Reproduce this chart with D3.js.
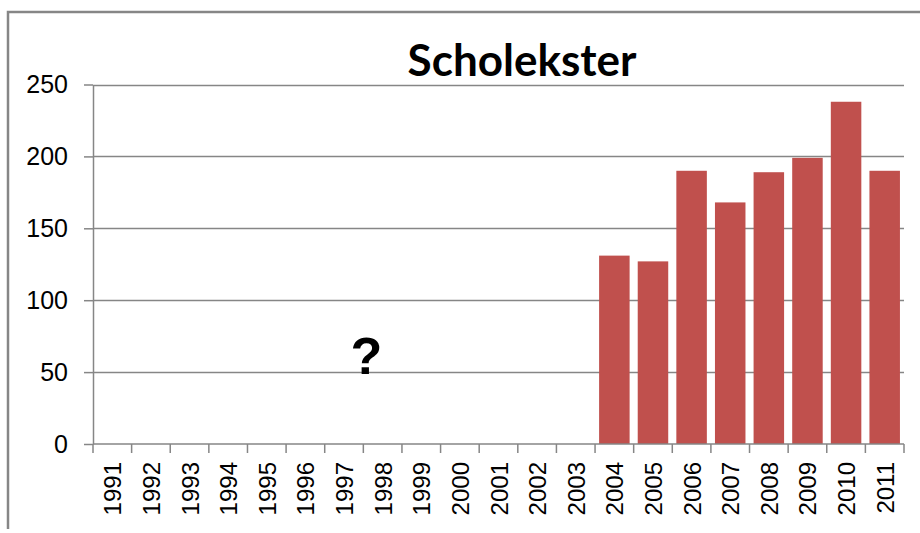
<!DOCTYPE html>
<html>
<head>
<meta charset="utf-8">
<script src="https://cdn.jsdelivr.net/npm/d3@7"></script>
<style>
  html, body { margin: 0; padding: 0; background: #fff; }
  svg { display: block; }
</style>
</head>
<body>
<svg id="chart" width="920" height="533"></svg>
<script>
// Broedparen scholekster per jaar (geen tellingen vóór 2004)
const years = ["1991","1992","1993","1994","1995","1996","1997","1998","1999","2000",
               "2001","2002","2003","2004","2005","2006","2007","2008","2009","2010","2011"];
const counts = [null,null,null,null,null,null,null,null,null,null,
                null,null,null,131,127,190,168,189,199,238,190];
const yTicks = [0, 50, 100, 150, 200, 250];
const title = "Scholekster";
const unknownMark = "?";

const svg = d3.select("#chart");
const margin = { left: 93, right: 16, top: 84.5, bottom: 89 };
const W = 920, H = 533;

const x = d3.scaleBand()
  .domain(years)
  .range([margin.left, W - margin.right])
  .paddingInner(0.21)
  .paddingOuter(0.105);

const y = d3.scaleLinear()
  .domain([0, 250])
  .range([H - margin.bottom, margin.top]);

const grey = "#868686";
const labelFont = "'Liberation Sans', Arial, sans-serif";

// chart frame (left and top edges)
svg.append("path")
  .attr("d", `M8,529 L8,12 L920,12`)
  .attr("fill", "none")
  .attr("stroke", grey)
  .attr("stroke-width", 2.5);

// horizontal gridlines
svg.append("g")
  .selectAll("line")
  .data(yTicks.filter(d => d > 0))
  .join("line")
  .attr("x1", margin.left)
  .attr("x2", W - margin.right)
  .attr("y1", d => Math.round(y(d)) + 0.5)
  .attr("y2", d => Math.round(y(d)) + 0.5)
  .attr("stroke", grey)
  .attr("stroke-width", 1.5);

// bars
svg.append("g")
  .selectAll("rect")
  .data(years.map((yr, i) => ({ yr, v: counts[i] })).filter(d => d.v != null))
  .join("rect")
  .attr("x", d => x(d.yr))
  .attr("width", x.bandwidth())
  .attr("y", d => y(d.v))
  .attr("height", d => y(0) - y(d.v))
  .attr("fill", "#C0504D");

// y axis
const yAxis = svg.append("g")
  .attr("transform", `translate(${margin.left},0)`)
  .call(d3.axisLeft(y).tickValues(yTicks).tickSize(9).tickPadding(16).tickSizeOuter(0));
yAxis.select(".domain").attr("stroke", grey).attr("stroke-width", 1.5);
yAxis.selectAll(".tick line").attr("stroke", grey).attr("stroke-width", 1.5);
yAxis.selectAll(".tick text")
  .attr("fill", "#000")
  .style("font-family", labelFont)
  .style("font-size", "25px");

// x axis: tick marks sit between the categories
const xAxis = svg.append("g")
  .attr("transform", `translate(0,${y(0)})`);
xAxis.append("line")
  .attr("x1", margin.left)
  .attr("x2", W - margin.right)
  .attr("stroke", grey)
  .attr("stroke-width", 1.5);
const step = x.step();
const edges = years.map(d => x(d) - x.paddingInner() * step / 2).concat([W - margin.right]);
xAxis.selectAll("line.sep")
  .data(edges)
  .join("line")
  .attr("class", "sep")
  .attr("x1", d => d)
  .attr("x2", d => d)
  .attr("y1", 0)
  .attr("y2", 9)
  .attr("stroke", grey)
  .attr("stroke-width", 1.5);
xAxis.selectAll("text")
  .data(years)
  .join("text")
  .attr("transform", d => `translate(${x(d) + x.bandwidth() / 2 + 9},18) rotate(-90)`)
  .attr("text-anchor", "end")
  .attr("fill", "#000")
  .style("font-family", labelFont)
  .style("font-size", "24px")
  .text(d => d);

// title
svg.append("text")
  .attr("x", 522)
  .attr("y", 76)
  .attr("text-anchor", "middle")
  .style("font-family", "Lato, 'Open Sans', sans-serif")
  .style("font-weight", "bold")
  .style("font-size", "44px")
  .attr("fill", "#000")
  .text(title);

// unknown counts marker for the years without data
svg.append("text")
  .attr("x", (x("1997") + x("1998") + x.bandwidth()) / 2 + 3)
  .attr("y", y(49))
  .attr("text-anchor", "middle")
  .style("font-family", labelFont)
  .style("font-weight", "bold")
  .style("font-size", "52px")
  .attr("fill", "#000")
  .text(unknownMark);
</script>
</body>
</html>
